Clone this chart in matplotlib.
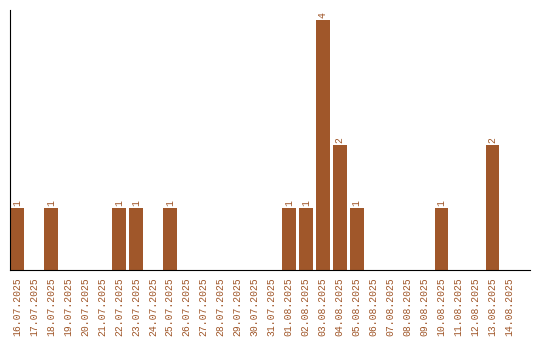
import matplotlib
matplotlib.use("Agg")
import matplotlib.pyplot as plt

# データ
dates = ["16.07.2025", "17.07.2025", "18.07.2025", "19.07.2025", "20.07.2025",
         "21.07.2025", "22.07.2025", "23.07.2025", "24.07.2025", "25.07.2025",
         "26.07.2025", "27.07.2025", "28.07.2025", "29.07.2025", "30.07.2025",
         "31.07.2025", "01.08.2025", "02.08.2025", "03.08.2025", "04.08.2025",
         "05.08.2025", "06.08.2025", "07.08.2025", "08.08.2025", "09.08.2025",
         "10.08.2025", "11.08.2025", "12.08.2025", "13.08.2025", "14.08.2025"]
counts = [1, 0, 1, 0, 0, 0, 1, 1, 0, 1,
          0, 0, 0, 0, 0, 0, 1, 1, 4, 2,
          1, 0, 0, 0, 0, 1, 0, 0, 2, 0]

color = "#a0572a"
font = "Liberation Mono"

fig = plt.figure(figsize=(5.4, 3.4), dpi=100)
ax = fig.add_axes([10 / 540, 70 / 340, 520 / 540, 260 / 340])

x = list(range(len(dates)))
ax.bar(x, counts, width=0.8, color=color)

# 値ラベル
for xi, c in zip(x, counts):
    if c > 0:
        ax.text(xi, c + 0.03, str(c), rotation=90, ha="center", va="bottom",
                fontsize=7, family=font, color=color)

ax.set_xlim(-0.41, 30.2)
ax.set_ylim(0, 4.16)
ax.set_xticks(x)
ax.set_xticklabels(dates, rotation=90, fontsize=7, family=font, color=color)
ax.tick_params(axis="x", length=0, pad=5)
ax.set_yticks([])
ax.spines["top"].set_visible(False)
ax.spines["right"].set_visible(False)

fig.savefig("out.png", dpi=100)
